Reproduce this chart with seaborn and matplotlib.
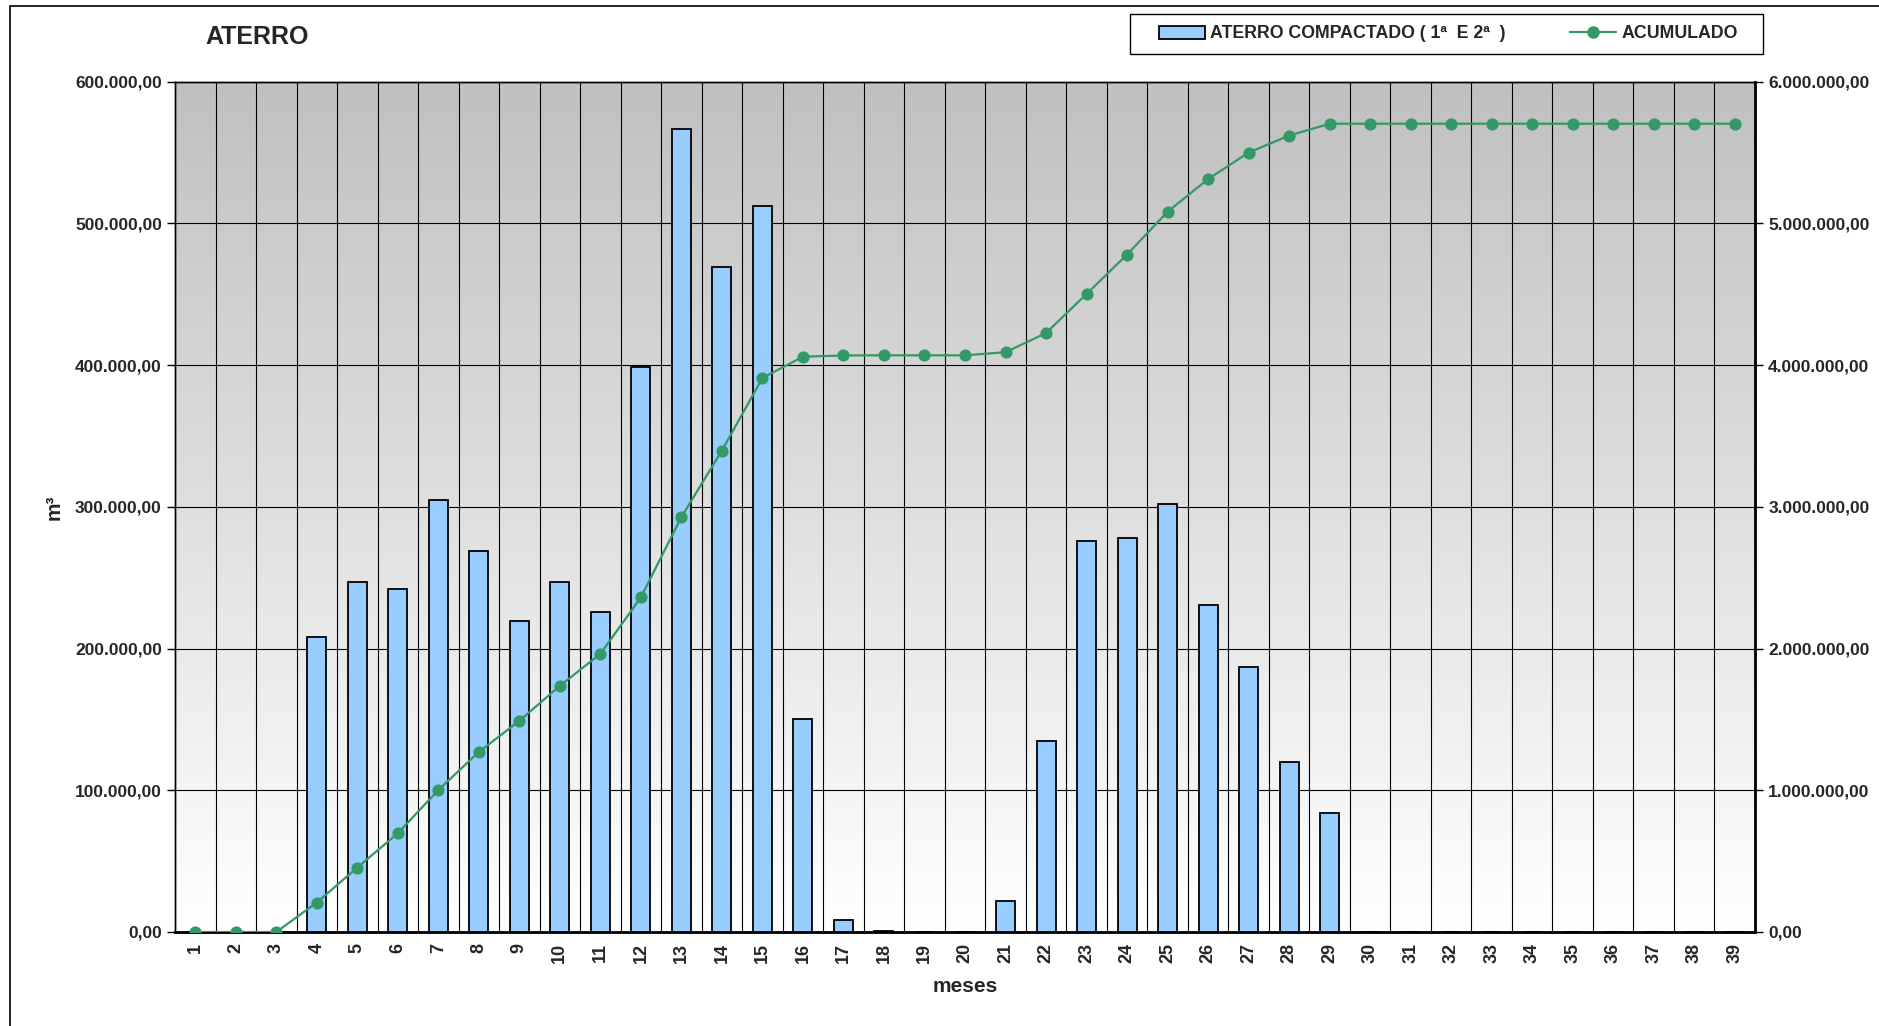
import seaborn as sns
import matplotlib.pyplot as plt
import matplotlib.ticker as mticker
from matplotlib.patches import Rectangle
from matplotlib.lines import Line2D
import numpy as np
import pandas as pd

meses = [str(m) for m in range(1, 40)]

# volume mensal (m3)
aterro = [0, 0, 0, 208000, 246800, 241700, 305000, 268700, 219700, 246800,
          225600, 398900, 566200, 469000, 512000, 150400, 8500, 1000, 0, 0,
          22000, 135000, 276000, 278000, 301700, 230700, 186800, 120000, 83700, 0,
          0, 0, 0, 0, 0, 0, 0, 0, 0]

# acumulado (m3)
acumulado = [0, 0, 0, 208000, 454800, 696500, 1001500, 1270200, 1489900, 1736700,
             1962300, 2361200, 2927400, 3396400, 3908400, 4058800, 4067300, 4068300, 4068300, 4068300,
             4090300, 4225300, 4501300, 4779300, 5081000, 5311700, 5498500, 5618500, 5702200, 5702200,
             5702200, 5702200, 5702200, 5702200, 5702200, 5702200, 5702200, 5702200, 5702200]

left_ticks = [0, 100000, 200000, 300000, 400000, 500000, 600000]
right_ticks = [0, 1000000, 2000000, 3000000, 4000000, 5000000, 6000000]


def br_fmt(v, pos=None):
    s = f"{v:,.2f}"
    return s.replace(",", "X").replace(".", ",").replace("X", ".")


sns.set_style("white")
plt.rcParams['font.family'] = ['Liberation Sans', 'DejaVu Sans']
plt.rcParams['font.weight'] = 'bold'

df = pd.DataFrame({'mes': meses, 'aterro': aterro, 'acumulado': acumulado})

fig = plt.figure(figsize=(18.79, 10.26), dpi=100)
ax = fig.add_axes([175 / 1879, 94 / 1026, 1580 / 1879, 850.5 / 1026])

# fundo em degradê
grad = np.linspace(0, 1, 256).reshape(-1, 1)
ax.imshow(grad, cmap=plt.matplotlib.colors.LinearSegmentedColormap.from_list(
    'g', ['#ffffff', '#c0c0c0']), origin='lower', aspect='auto',
    extent=[-0.5, len(meses) - 0.5, 0, 600000], zorder=0)

sns.barplot(data=df, x='mes', y='aterro', ax=ax, color='#99ccff', saturation=1,
            width=0.47, edgecolor='black', linewidth=1.3, zorder=3)

ax.set_xlim(-0.5, len(meses) - 0.5)
ax.set_ylim(0, 600000)
ax.set_yticks(left_ticks)
ax.yaxis.set_major_formatter(mticker.FuncFormatter(br_fmt))
ax.set_xticks(range(len(meses)))
ax.set_xticklabels(meses, rotation=90, fontsize=13, fontweight='bold')
ax.set_xticks(np.arange(-0.5, len(meses)), minor=True)
ax.tick_params(axis='x', which='major', length=0, pad=8)
ax.tick_params(axis='x', which='minor', length=6, width=1, color='black', direction='out')
ax.tick_params(axis='y', which='major', length=6, width=1, color='black', direction='out',
               labelsize=12.5, left=True)
for lab in ax.get_yticklabels():
    lab.set_fontweight('bold')

for x in np.arange(0.5, len(meses) - 0.5):
    ax.axvline(x, color='black', lw=0.8, zorder=1)
for y in left_ticks[1:-1]:
    ax.axhline(y, color='black', lw=0.8, zorder=1)

for sp in ax.spines.values():
    sp.set_color('black')
    sp.set_linewidth(1)
ax.spines['bottom'].set_linewidth(2)

ax.set_xlabel('meses', fontsize=15, fontweight='bold', labelpad=10)
ax.set_ylabel('m³', fontsize=15, fontweight='bold')
ax.yaxis.set_label_coords(-0.0705, 0.5)

ax2 = ax.twinx()
sns.lineplot(x=np.arange(len(meses)), y=df['acumulado'], ax=ax2, color='#339966',
             linewidth=1.6, marker='o', markersize=8, markeredgecolor='#339966', zorder=5)
ax2.set_ylim(0, 6000000)
ax2.set_xlim(-0.5, len(meses) - 0.5)
ax2.set_yticks(right_ticks)
ax2.yaxis.set_major_formatter(mticker.FuncFormatter(br_fmt))
ax2.tick_params(axis='y', which='major', length=6, width=1, color='black', direction='out',
                labelsize=12.5, right=True)
for lab in ax2.get_yticklabels():
    lab.set_fontweight('bold')
ax2.set_ylabel('')
for sp in ax2.spines.values():
    sp.set_color('black')
    sp.set_linewidth(1)
ax2.spines['right'].set_linewidth(2)

fig.text(205 / 1879, 1 - 37 / 1026, 'ATERRO', fontsize=18, fontweight='bold',
         va='center', ha='left')

# legenda (caixa desenhada à parte)
handles = [Rectangle((0, 0), 1, 1, facecolor='#99ccff', edgecolor='black', linewidth=1.3),
           Line2D([], [], color='#339966', linewidth=1.6, marker='o', markersize=8)]
fig.legend(handles, ['ATERRO COMPACTADO ( 1ª  E 2ª  )', 'ACUMULADO'],
           ncol=2, loc='center', bbox_to_anchor=(1448 / 1879, 1 - 34 / 1026),
           frameon=False, prop={'weight': 'bold', 'size': 12.8}, handlelength=2.6,
           handletextpad=0.3, columnspacing=3.6)
fig.patches.append(Rectangle((1130 / 1879, 1 - 54 / 1026), 633 / 1879, 40 / 1026,
                             transform=fig.transFigure, fill=False,
                             edgecolor='black', linewidth=1))

fig.patches.append(Rectangle((10 / 1879, -0.05), 1.1, 1 - 6 / 1026 + 0.05,
                             transform=fig.transFigure, fill=False,
                             edgecolor='black', linewidth=1.2))

fig.savefig('out.png', dpi=100)
plt.close(fig)
